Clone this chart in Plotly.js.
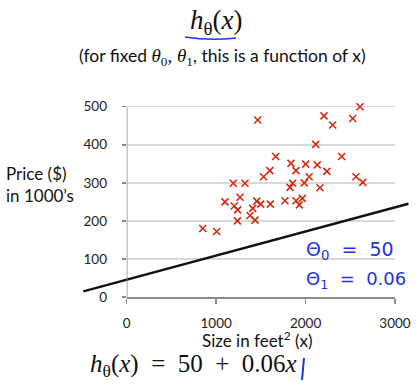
<!DOCTYPE html>
<html>
<head>
<meta charset="utf-8">
<script src="https://cdn.plot.ly/plotly-3.0.1.min.js"></script>
<style>html,body{margin:0;padding:0;background:#fff;}#chart{width:418px;height:384px;}</style>
</head>
<body>
<div id="chart"></div>
<script>
// ---- data ----
const sizes  = [850, 1006, 1099, 1192, 1203, 1241, 1267, 1238, 1323, 1379, 1409, 1435, 1454, 1465, 1498, 1530, 1600, 1606, 1666, 1770, 1826, 1837, 1856, 1893, 1893, 1930, 1964, 1986, 2001, 2040, 2113, 2131, 2161, 2206, 2238, 2303, 2404, 2527, 2564, 2609, 2640];
const prices = [180, 172, 250, 299, 239, 229, 262, 200, 299, 214, 233, 202, 252, 465, 244, 316, 332, 244, 369, 253, 288, 351, 299, 332, 253, 242, 259, 300, 349, 316, 401, 347, 287, 476, 330, 452, 369, 469, 316, 500, 301];
const lineX = [-485, 3150];
const lineY = [15, 245];
const xTicks = [0, 1000, 2000, 3000];
const yTicks = [0, 100, 200, 300, 400, 500];

// ---- geometry (pixels) ----
const W = 418, H = 384;
const px = x => x / W;
const py = y => 1 - y / H;
const x0px = 126.7, x3000px = 395;
const xScale = (x3000px - x0px) / 3000;
const yBottom = 297, y500 = 106.7;
const yScale = (yBottom - y500) / 500;
const yMax = 520;
const yTop = yBottom - yMax * yScale;
const x2Range = [-500, 3170];
const x2Dom = [px(x0px + x2Range[0] * xScale), px(x0px + x2Range[1] * xScale)];

const axisGrey = '#8a8a8a';
const sans = 'Lato, "Open Sans", sans-serif';
const serif = '"Liberation Serif", "DejaVu Serif", serif';
const blue = '#1f33e6';

const traces = [
  {
    x: lineX, y: lineY, type: 'scatter', mode: 'lines',
    xaxis: 'x2', yaxis: 'y2',
    line: { color: '#111', width: 2.4 },
    hoverinfo: 'skip'
  },
  {
    x: sizes, y: prices, type: 'scatter', mode: 'markers',
    xaxis: 'x', yaxis: 'y', cliponaxis: false,
    marker: { symbol: 'x-thin-open', size: 7, color: '#d42a12', line: { width: 1.6, color: '#d42a12' } },
    hoverinfo: 'skip'
  }
];

const layout = {
  width: W, height: H,
  margin: { l: 0, r: 0, t: 0, b: 0 },
  paper_bgcolor: '#fff', plot_bgcolor: 'rgba(0,0,0,0)',
  showlegend: false,
  font: { family: sans, size: 13, color: '#222' },
  xaxis: {
    domain: [px(x0px), px(x3000px)], range: [0, 3000], anchor: 'y',
    tickvals: xTicks, ticktext: xTicks.map(String),
    showgrid: false, zeroline: false,
    showline: true, linecolor: axisGrey, linewidth: 1.5,
    ticks: 'outside', ticklen: 5, tickcolor: axisGrey, tickwidth: 1.5,
    ticklabelstandoff: 8,
    tickfont: { family: sans, size: 13.5, color: '#222' }
  },
  yaxis: {
    domain: [py(yBottom), py(yTop)], range: [0, yMax], anchor: 'x',
    tickvals: yTicks, ticktext: yTicks.map(String),
    showgrid: true, gridcolor: '#d9d9d9', gridwidth: 1.5, zeroline: false,
    showline: false,
    ticks: 'outside', ticklen: 4, tickcolor: axisGrey, tickwidth: 1.5,
    ticklabelstandoff: 12,
    tickfont: { family: sans, size: 13.5, color: '#222' }
  },
  xaxis2: { domain: x2Dom, range: x2Range, anchor: 'y2', visible: false },
  yaxis2: { domain: [py(yBottom), py(yTop)], range: [0, yMax], anchor: 'x2', visible: false },
  annotations: [
    { text: '<i>h</i><sub>θ</sub>(<i>x</i>)', xref: 'paper', yref: 'paper', x: px(216), y: py(22),
      xanchor: 'center', yanchor: 'middle', showarrow: false, font: { family: serif, size: 27, color: '#111' } },
    { text: '(for fixed <span style="font-family:Liberation Serif;font-size:19px"><i>θ</i><sub>0</sub>, <i>θ</i><sub>1</sub></span>, this is a function of x)',
      xref: 'paper', yref: 'paper', x: px(223), y: py(57),
      xanchor: 'center', yanchor: 'middle', showarrow: false, font: { family: sans, size: 17.5, color: '#111' } },
    { text: 'Price ($)<br>in 1000’s', xref: 'paper', yref: 'paper', x: px(4), y: py(185),
      xanchor: 'left', yanchor: 'middle', align: 'left', showarrow: false, font: { family: sans, size: 17, color: '#111' } },
    { text: 'Size in feet<sup>2</sup> (x)', xref: 'paper', yref: 'paper', x: px(257), y: py(339),
      xanchor: 'center', yanchor: 'middle', showarrow: false, font: { family: sans, size: 17, color: '#111' } },
    { text: '<i>h</i><sub>θ</sub>(<i>x</i>)  =  50  +  0.06<i>x</i>', xref: 'paper', yref: 'paper', x: px(88), y: py(365),
      xanchor: 'left', yanchor: 'middle', showarrow: false, font: { family: serif, size: 25, color: '#111' } },
    { text: 'Θ<sub>0</sub>  =  50', xref: 'paper', yref: 'paper', x: px(304), y: py(250),
      xanchor: 'left', yanchor: 'middle', showarrow: false, font: { family: 'DejaVu Sans', size: 19, color: blue } },
    { text: 'Θ<sub>1</sub>  =  0.06', xref: 'paper', yref: 'paper', x: px(304), y: py(280),
      xanchor: 'left', yanchor: 'middle', showarrow: false, font: { family: 'DejaVu Sans', size: 18, color: blue } }
  ],
  shapes: [
    // y axis line drawn from the axis bottom to the 500 gridline
    { type: 'line', xref: 'x', yref: 'y', x0: 0, x1: 0, y0: 0, y1: 500, layer: 'above',
      line: { color: axisGrey, width: 1.5 } },
    { type: 'path', xref: 'paper', yref: 'paper',
      path: `M ${px(185)} ${py(37)} Q ${px(210)} ${py(41)} ${px(236)} ${py(38)}`,
      line: { color: blue, width: 1.5 } },
    { type: 'line', xref: 'paper', yref: 'paper', x0: px(304), y0: py(358), x1: px(302), y1: py(380),
      line: { color: blue, width: 2 } }
  ]
};

Plotly.newPlot('chart', traces, layout, { staticPlot: true, displayModeBar: false });
</script>
</body>
</html>
